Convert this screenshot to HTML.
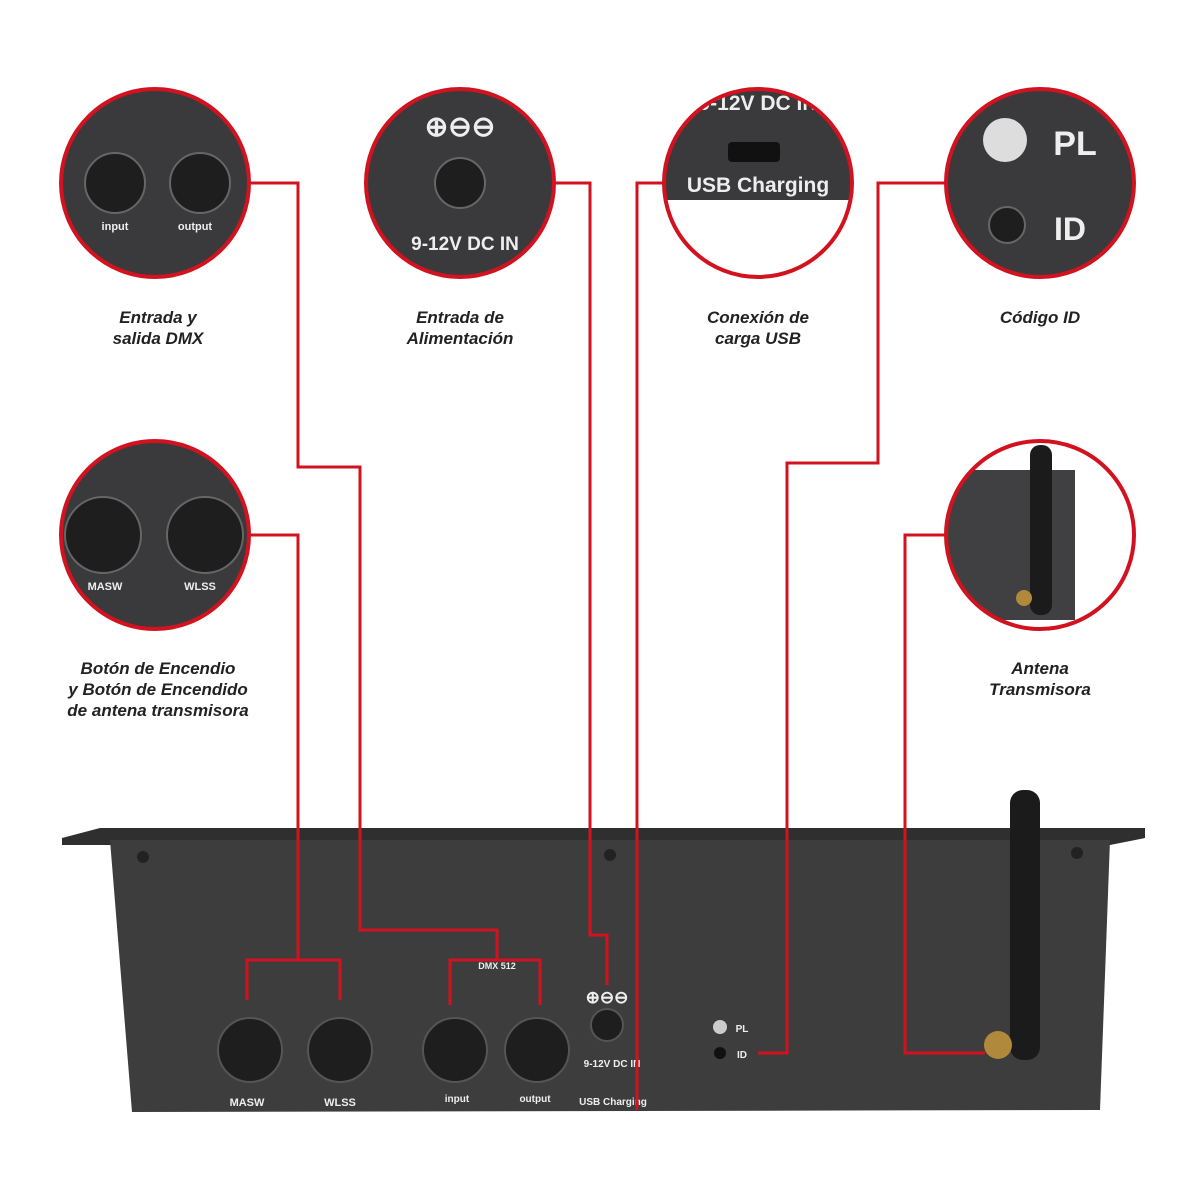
<!DOCTYPE html>
<html><head><meta charset="utf-8"><style>
html,body{margin:0;padding:0;background:#fff}
svg{display:block}
.lbl{font-family:"Liberation Sans",sans-serif;font-style:italic;font-weight:bold;font-size:17px;fill:#222;text-anchor:middle}
.w{font-family:"Liberation Sans",sans-serif;font-weight:bold;fill:#eee;text-anchor:middle}
</style></head><body>
<svg width="1200" height="1200" viewBox="0 0 1200 1200" xmlns="http://www.w3.org/2000/svg">
<defs>
<clipPath id="c3"><circle cx="758" cy="183" r="93"/></clipPath>
<clipPath id="c6"><circle cx="1040" cy="535" r="93"/></clipPath>
</defs>
<rect width="1200" height="1200" fill="#fff"/>
<!-- device -->
<path d="M62 838 L100 828 L1145 828 L1145 838 L1110 845 L62 845 Z" fill="#2f2f2f"/>
<path d="M110 840 L1110 840 L1100 1110 L132 1112 Z" fill="#3d3d3d"/>
<circle cx="143" cy="857" r="6" fill="#222"/><circle cx="610" cy="855" r="6" fill="#222"/><circle cx="1077" cy="853" r="6" fill="#222"/>
<g fill="#1e1e1e" stroke="#555" stroke-width="2">
<circle cx="250" cy="1050" r="32"/><circle cx="340" cy="1050" r="32"/>
<circle cx="455" cy="1050" r="32"/><circle cx="537" cy="1050" r="32"/>
<circle cx="607" cy="1025" r="16"/>
</g>
<text class="w" x="247" y="1106" font-size="11">MASW</text>
<text class="w" x="340" y="1106" font-size="11">WLSS</text>
<text class="w" x="457" y="1102" font-size="10">input</text>
<text class="w" x="535" y="1102" font-size="10">output</text>
<text class="w" x="497" y="969" font-size="9">DMX 512</text>
<text class="w" x="607" y="1003" font-size="17">⊕⊖⊖</text>
<text class="w" x="612" y="1067" font-size="10">9-12V DC IN</text>
<text class="w" x="613" y="1105" font-size="10">USB Charging</text>
<circle cx="720" cy="1027" r="7" fill="#ccc"/><circle cx="720" cy="1053" r="6" fill="#111"/>
<text class="w" x="742" y="1032" font-size="10">PL</text><text class="w" x="742" y="1058" font-size="10">ID</text>
<rect x="1010" y="790" width="30" height="270" rx="13" fill="#1b1b1b"/>
<circle cx="998" cy="1045" r="14" fill="#b08a3a"/>
<!-- circles -->
<g fill="#3a3a3c">
<circle cx="155" cy="183" r="94"/><circle cx="460" cy="183" r="94"/>
<circle cx="1040" cy="183" r="94"/><circle cx="155" cy="535" r="94"/>
</g>
<g clip-path="url(#c3)">
<rect x="660" y="85" width="200" height="115" fill="#3a3a3c"/>
<text class="w" x="758" y="192" font-size="21">USB Charging</text>
<text class="w" x="758" y="110" font-size="21">9-12V DC IN</text>
<rect x="728" y="142" width="52" height="20" rx="4" fill="#111"/>
</g>
<g clip-path="url(#c6)">
<rect x="940" y="430" width="200" height="210" fill="#fff"/>
<rect x="940" y="470" width="135" height="150" fill="#404042"/>
<rect x="1030" y="445" width="22" height="170" rx="10" fill="#1b1b1b"/>
<circle cx="1024" cy="598" r="8" fill="#b08a3a"/>
</g>
<g stroke="#d3121f" stroke-width="4" fill="none">
<circle cx="155" cy="183" r="94"/><circle cx="460" cy="183" r="94"/>
<circle cx="758" cy="183" r="94"/><circle cx="1040" cy="183" r="94"/>
<circle cx="155" cy="535" r="94"/><circle cx="1040" cy="535" r="94"/>
</g>
<g fill="#1e1e1e" stroke="#666" stroke-width="2">
<circle cx="115" cy="183" r="30"/><circle cx="200" cy="183" r="30"/>
<circle cx="460" cy="183" r="25"/>
<circle cx="103" cy="535" r="38"/><circle cx="205" cy="535" r="38"/>
<circle cx="1007" cy="225" r="18"/>
</g>
<circle cx="1005" cy="140" r="22" fill="#ddd"/>
<text class="w" x="1075" y="155" font-size="34">PL</text>
<text class="w" x="1070" y="240" font-size="32">ID</text>
<text class="w" x="465" y="250" font-size="19">9-12V DC IN</text>
<text class="w" x="460" y="136" font-size="28">⊕⊖⊖</text>
<text class="w" x="115" y="230" font-size="11">input</text><text class="w" x="195" y="230" font-size="11">output</text>
<text class="w" x="105" y="590" font-size="11">MASW</text><text class="w" x="200" y="590" font-size="11">WLSS</text>
<g stroke="#d3121f" stroke-width="3" fill="none">
<polyline points="249,183 298,183 298,467 360,467 360,930 497,930 497,960"/>
<polyline points="450,1005 450,960 540,960 540,1005"/>
<polyline points="554,183 590,183 590,935 607,935 607,985"/>
<polyline points="664,183 637,183 637,1110"/>
<polyline points="946,183 878,183 878,463 787,463 787,1053 758,1053"/>
<polyline points="249,535 298,535 298,960"/>
<polyline points="247,1000 247,960 340,960 340,1000"/>
<polyline points="946,535 905,535 905,1053 985,1053"/>
</g>
<text class="lbl" x="158" y="323">Entrada y</text><text class="lbl" x="158" y="344">salida DMX</text>
<text class="lbl" x="460" y="323">Entrada de</text><text class="lbl" x="460" y="344">Alimentación</text>
<text class="lbl" x="758" y="323">Conexión de</text><text class="lbl" x="758" y="344">carga USB</text>
<text class="lbl" x="1040" y="323">Código ID</text>
<text class="lbl" x="158" y="674">Botón de Encendio</text><text class="lbl" x="158" y="695">y Botón de Encendido</text><text class="lbl" x="158" y="716">de antena transmisora</text>
<text class="lbl" x="1040" y="674">Antena</text><text class="lbl" x="1040" y="695">Transmisora</text>
</svg>
</body></html>
